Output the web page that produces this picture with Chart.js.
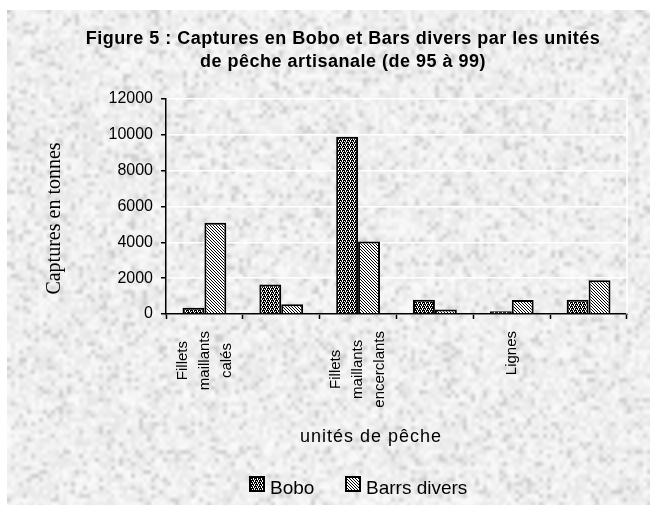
<!DOCTYPE html>
<html>
<head>
<meta charset="utf-8">
<script src="https://cdn.jsdelivr.net/npm/chart.js@4.4.1/dist/chart.umd.min.js"></script>
<style>
  body { margin: 0; background: #fff; }
  #wrap { width: 650px; height: 505px; }
</style>
</head>
<body>
<div id="wrap"><canvas id="chart" width="650" height="505"></canvas></div>
<script>
// data
const categories = [
    ['Fillets', 'maillants', 'calés'],
    [''],
    ['Fillets', 'maillants', 'encerclants'],
    [''],
    ['Lignes'],
    ['']
];
const boboValues = [350, 1650, 9900, 800, 150, 800];
const barrsValues = [5100, 550, 4050, 250, 780, 1880];
const yTicks = [0, 2000, 4000, 6000, 8000, 10000, 12000];
const seriesNames = ['Bobo', 'Barrs divers'];
const titleLines = [
    'Figure 5 : Captures en Bobo et Bars divers par les unités',
    'de pêche artisanale (de 95 à 99)'
];
const yTitle = 'Captures en tonnes';
const xTitle = 'unités de pêche';

const SANS = "'Liberation Sans', Arial, sans-serif";
const SERIF = "'Liberation Serif', 'Times New Roman', serif";

function makePattern(rows) {
    const c = document.createElement('canvas');
    c.width = rows[0].length;
    c.height = rows.length;
    const g = c.getContext('2d');
    g.fillStyle = '#fff';
    g.fillRect(0, 0, c.width, c.height);
    g.fillStyle = '#000';
    rows.forEach((r, y) => {
        for (let x = 0; x < r.length; x++) {
            if (r[x] === 'x') g.fillRect(x, y, 1, 1);
        }
    });
    return g.createPattern(c, 'repeat');
}

const boboFill = makePattern([
    'xx.x',
    '.x.x',
    'x.xx',
    'x.x.'
]);
const barrsFill = makePattern([
    'x..',
    '.x.',
    '..x'
]);

// granite-ish paper behind the figure
function hash(x, y) {
    const s = Math.sin(x * 127.1 + y * 311.7) * 43758.5453;
    return s - Math.floor(s);
}
const paper = document.createElement('canvas');
paper.width = 162;
paper.height = 125;
(function () {
    const g = paper.getContext('2d');
    const img = g.createImageData(paper.width, paper.height);
    for (let y = 0; y < paper.height; y++) {
        for (let x = 0; x < paper.width; x++) {
            const h = hash(x, y);
            let v = 226 + h * 26;
            if (h < 0.12) v = 202 + h * 120;
            const i = (y * paper.width + x) * 4;
            img.data[i] = img.data[i + 1] = img.data[i + 2] = v;
            img.data[i + 3] = 255;
        }
    }
    g.putImageData(img, 0, 0);
})();

const decor = {
    id: 'decor',
    beforeDraw(chart) {
        const ctx = chart.ctx;
        ctx.save();
        ctx.imageSmoothingEnabled = true;
        ctx.drawImage(paper, 7, 10, 648, 500);
        ctx.restore();
    },
    beforeDatasetsDraw(chart) {
        const { ctx, chartArea } = chart;
        ctx.save();
        ctx.strokeStyle = '#fff';
        ctx.lineWidth = 1.5;
        ctx.beginPath();
        ctx.moveTo(chartArea.right, chartArea.top);
        ctx.lineTo(chartArea.right, chartArea.bottom);
        ctx.stroke();
        ctx.restore();
    },
    afterDraw(chart) {
        const ctx = chart.ctx;
        const xScale = chart.scales.x;
        const yScale = chart.scales.y;
        ctx.save();
        ctx.fillStyle = '#000';

        // title
        ctx.font = 'bold 18px ' + SANS;
        ctx.letterSpacing = '0.5px';
        ctx.textAlign = 'center';
        ctx.textBaseline = 'alphabetic';
        ctx.fillText(titleLines[0], 343, 44);
        ctx.fillText(titleLines[1], 343, 67);
        ctx.letterSpacing = '0px';

        // y axis title
        ctx.save();
        ctx.font = '20px ' + SERIF;
        ctx.translate(55, (yScale.top + yScale.bottom) / 2 + 12);
        ctx.rotate(-Math.PI / 2);
        ctx.textAlign = 'center';
        ctx.textBaseline = 'middle';
        ctx.fillText(yTitle, 0, 0);
        ctx.restore();

        // category labels, rotated, lines centred on the longest one
        ctx.font = '15px ' + SANS;
        categories.forEach((lines, i) => {
            const px = xScale.getPixelForValue(i);
            const longest = Math.max(...lines.map(l => ctx.measureText(l).width));
            const cy = 331 + longest / 2;
            const lh = 22;
            lines.forEach((line, j) => {
                const lx = px + (j - (lines.length - 1) / 2) * lh;
                ctx.save();
                ctx.translate(lx, cy);
                ctx.rotate(-Math.PI / 2);
                ctx.textAlign = 'center';
                ctx.textBaseline = 'middle';
                ctx.fillText(line, 0, 0);
                ctx.restore();
            });
        });

        // x axis title
        ctx.font = '18px ' + SANS;
        ctx.textAlign = 'center';
        ctx.textBaseline = 'alphabetic';
        ctx.letterSpacing = '1px';
        ctx.fillText(xTitle, 371, 442);
        ctx.letterSpacing = '0px';

        // legend
        const fills = [boboFill, barrsFill];
        const keyX = [250, 346];
        ctx.font = '19px ' + SANS;
        ctx.textAlign = 'left';
        seriesNames.forEach((name, i) => {
            ctx.fillStyle = fills[i];
            ctx.fillRect(keyX[i], 477, 14, 14);
            ctx.strokeStyle = '#000';
            ctx.lineWidth = 2;
            ctx.strokeRect(keyX[i], 477, 14, 14);
            ctx.fillStyle = '#000';
            ctx.fillText(name, keyX[i] + 20, 494);
        });
        ctx.restore();
    }
};

new Chart(document.getElementById('chart'), {
    type: 'bar',
    data: {
        labels: categories,
        datasets: [
            {
                label: seriesNames[0],
                data: boboValues,
                backgroundColor: boboFill,
                borderColor: '#000',
                borderWidth: 2,
                borderSkipped: 'bottom'
            },
            {
                label: seriesNames[1],
                data: barrsValues,
                backgroundColor: barrsFill,
                borderColor: '#000',
                borderWidth: 2,
                borderSkipped: 'bottom'
            }
        ]
    },
    options: {
        responsive: false,
        animation: false,
        categoryPercentage: 0.57,
        barPercentage: 1.0,
        layout: { padding: { left: 0, top: 99, right: 23, bottom: 0 } },
        plugins: {
            legend: { display: false },
            title: { display: false },
            tooltip: { enabled: false }
        },
        scales: {
            x: {
                afterFit: s => { s.height = 191; },
                ticks: { display: false },
                grid: {
                    offset: true,
                    drawOnChartArea: false,
                    drawTicks: true,
                    tickLength: 5,
                    tickColor: '#000',
                    tickWidth: 1.5
                },
                border: { color: '#000', width: 1.5 }
            },
            y: {
                min: 0,
                max: 12000,
                afterFit: s => { s.width = 166; },
                afterBuildTicks: s => { s.ticks = yTicks.map(v => ({ value: v })); },
                ticks: {
                    color: '#000',
                    padding: 8,
                    font: { family: SANS, size: 16 },
                    callback: v => String(v)
                },
                grid: {
                    color: '#fff',
                    lineWidth: 1.5,
                    tickColor: '#000',
                    tickLength: 5
                },
                border: { color: '#000', width: 1.5 }
            }
        }
    },
    plugins: [decor]
});
</script>
</body>
</html>
